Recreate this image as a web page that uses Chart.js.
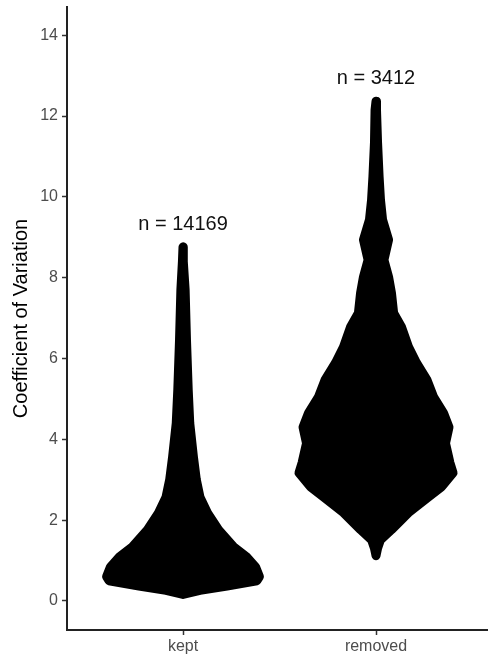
<!DOCTYPE html>
<html>
<head>
<meta charset="utf-8">
<script src="https://cdn.jsdelivr.net/npm/chart.js@4/dist/chart.umd.min.js"></script>
<style>
  body { margin: 0; background: #fff; }
  canvas { display: block; }
</style>
</head>
<body>
<canvas id="cvChart" width="489" height="660"></canvas>
<script>
// swarm outline: CV level and half-width of the swarm (in category units)
const groups = ["kept", "removed"];
const nCounts = [14169, 3412];

const keptCv   = [0.16, 0.26, 0.37, 0.5, 0.6, 0.84, 1.09, 1.34, 1.76, 2.18, 2.57, 3.0, 3.56, 4.4, 5.22, 6.46, 7.7, 8.4, 8.76];
const keptHalf = [0, 0.088, 0.228, 0.383, 0.396, 0.376, 0.329, 0.262, 0.184, 0.127, 0.088, 0.069, 0.054, 0.035, 0.027, 0.018, 0.011, 0.003, 0];

const removedCv   = [1.12, 1.3, 1.51, 1.76, 2.18, 2.57, 2.82, 3.17, 3.42, 3.9, 4.3, 4.65, 5.05, 5.47, 5.89, 6.29, 6.78, 7.13, 7.62, 8.02, 8.44, 8.94, 9.43, 9.93, 10.5, 11.34, 12.15, 12.37];
const removedHalf = [0, 0.008, 0.023, 0.080, 0.168, 0.272, 0.339, 0.399, 0.383, 0.360, 0.378, 0.350, 0.298, 0.264, 0.210, 0.168, 0.132, 0.091, 0.080, 0.065, 0.041, 0.065, 0.034, 0.023, 0.016, 0.008, 0.005, 0];

const yTicks = [0, 2, 4, 6, 8, 10, 12, 14];

const FONT = "'Liberation Sans', Arial, sans-serif";

// closed polygon: up the left edge, back down the right edge
function outline(center, cv, half) {
  const left = cv.map((v, i) => ({ x: center - half[i], y: v }));
  const right = cv.map((v, i) => ({ x: center + half[i], y: v })).reverse();
  return left.concat(right);
}

function swarm(center, cv, half) {
  return {
    data: outline(center, cv, half),
    borderColor: "#000",
    backgroundColor: "#000",
    borderWidth: 9,
    borderJoinStyle: "round",
    borderCapStyle: "round",
    fill: "shape",
    pointRadius: 0,
    tension: 0
  };
}

// "n = ..." above each swarm
const countLabels = {
  id: "countLabels",
  afterDatasetsDraw(chart) {
    const { ctx, scales } = chart;
    const tops = [Math.max(...keptCv), Math.max(...removedCv)];
    ctx.save();
    ctx.font = "20px " + FONT;
    ctx.fillStyle = "#111";
    ctx.textAlign = "center";
    ctx.textBaseline = "middle";
    groups.forEach((g, i) => {
      const x = scales.x.getPixelForValue(i + 1);
      const y = scales.y.getPixelForValue(tops[i] + 0.55);
      ctx.fillText("n = " + nCounts[i], x, y);
    });
    ctx.restore();
  }
};

new Chart(document.getElementById("cvChart"), {
  type: "line",
  data: {
    datasets: [
      swarm(1, keptCv, keptHalf),
      swarm(2, removedCv, removedHalf)
    ]
  },
  options: {
    responsive: false,
    animation: false,
    layout: { padding: { top: 7, right: 2, left: 0, bottom: 0 } },
    plugins: {
      legend: { display: false },
      tooltip: { enabled: false }
    },
    scales: {
      x: {
        type: "linear",
        min: 0.399,
        max: 2.575,
        afterBuildTicks: s => { s.ticks = [{ value: 1 }, { value: 2 }]; },
        afterFit: s => { s.height = 30; s.paddingLeft = 0; s.paddingRight = 0; },
        ticks: {
          callback: v => groups[v - 1],
          color: "#4d4d4d",
          font: { size: 16, family: FONT },
          padding: 2,
          maxRotation: 0
        },
        grid: { drawOnChartArea: false, tickLength: 5, tickColor: "#333", tickWidth: 1.5 },
        border: { color: "#222", width: 2 }
      },
      y: {
        min: -0.72,
        max: 14.7,
        afterBuildTicks: s => { s.ticks = yTicks.map(v => ({ value: v })); },
        afterFit: s => { s.width = 67; s.paddingTop = 0; s.paddingBottom = 0; },
        ticks: {
          color: "#4d4d4d",
          font: { size: 16, family: FONT },
          padding: 4
        },
        grid: { drawOnChartArea: false, tickLength: 5, tickColor: "#333", tickWidth: 1.5 },
        border: { color: "#222", width: 2 },
        title: {
          display: true,
          text: "Coefficient of Variation",
          color: "#000",
          font: { size: 20, family: FONT },
          padding: { top: 9, bottom: 0 }
        }
      }
    }
  },
  plugins: [countLabels]
});
</script>
</body>
</html>
